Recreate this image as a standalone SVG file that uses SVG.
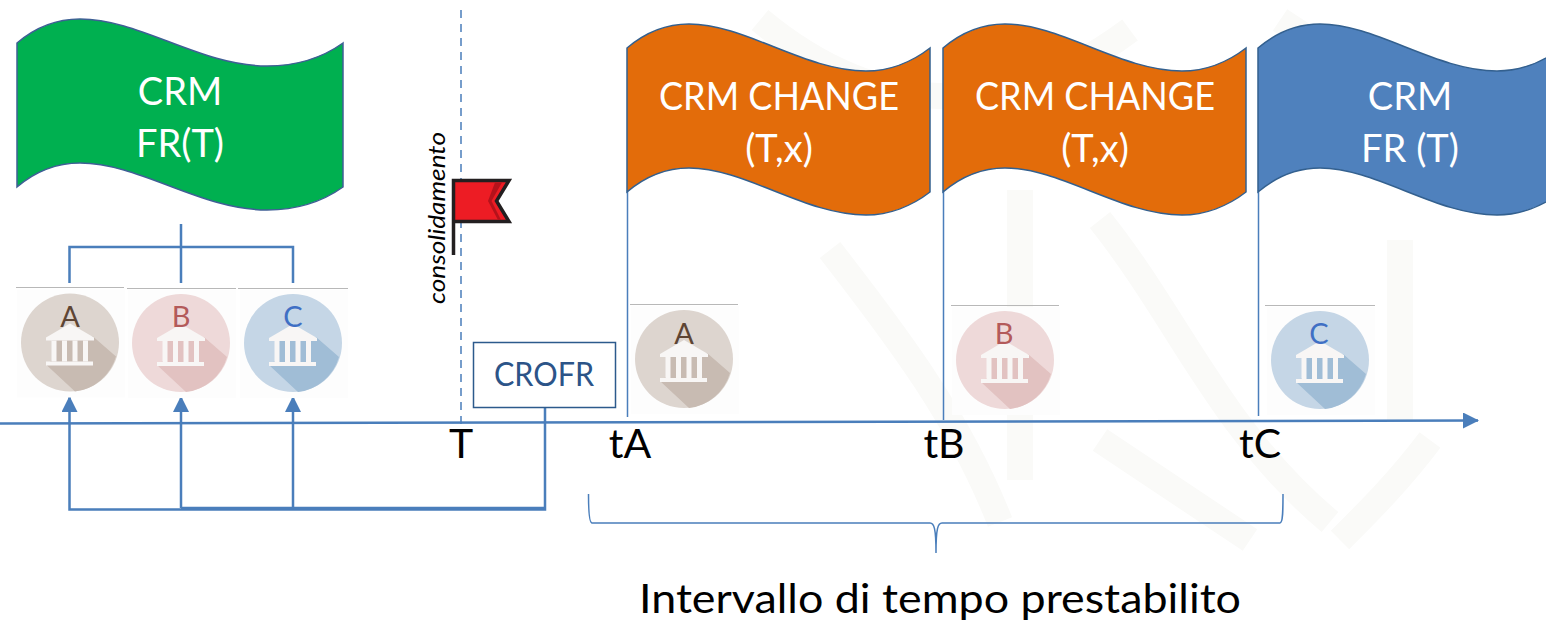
<svg xmlns="http://www.w3.org/2000/svg" width="1546" height="622" viewBox="0 0 1546 622">
<style>
text{font-family:Lato,"Noto Sans","Liberation Sans",sans-serif}
.flagtxt{fill:#fff;font-size:38px;text-anchor:middle}
.time{fill:#000;font-size:41px;text-anchor:middle}
.ln{fill:none;stroke:#4a7ebb;stroke-width:2.500}
.thin{fill:none;stroke:#4a7ebb;stroke-width:1.500}
.gray{stroke:#b8b8b8;stroke-width:1}
.wave{stroke:#33608f;stroke-width:1.500}
.mark{fill:none;stroke:#fafaf8;stroke-width:26}
.lab{font-size:29px;text-anchor:middle}
</style>
<defs>
<marker id="ah" markerUnits="userSpaceOnUse" markerWidth="16" markerHeight="16" refX="15" refY="8" orient="auto"><path d="M0 0L16 8L0 16Z" fill="#4a7ebb"/></marker>
<path id="w" d="M0 0C20-17 42-24 62-24C118-24 178 23 239 23C262 23 285 14 303 0V144C285 158 262 167 239 167C178 167 118 120 62 120C42 120 20 127 0 144Z"/>
<g id="bank">
<rect x="-53" y="-53" width="108" height="108" fill="#fdfdfd"/>
<circle r="49" fill="var(--c)"/>
<path d="M-18-6H23L46 14A49 49 0 0 1 5 49L-24 22L-18 18Z" fill="var(--s)"/>
<g fill="#f8f6f5"><path d="M0-19L24-5V-2H-24V-5Z"/><rect x="-24" y="19" width="47" height="4"/><rect x="-18.500" y="-2" width="5" height="21"/><rect x="-8" y="-2" width="5" height="21"/><rect x="2.500" y="-2" width="5" height="21"/><rect x="13" y="-2" width="5" height="21"/></g>
</g>
</defs>
<rect width="1546" height="622" fill="#fff"/>
<g id="watermark">
<path class="mark" d="M760 20C880 120 1010 120 1130 30M1280 20C1400 100 1480 130 1546 180M1020 190V480M1100 220C1180 320 1220 430 1330 522M1400 240V420M830 250C900 340 960 420 1000 522M1100 440L1250 540M1430 440C1400 480 1370 510 1340 540"/>
</g>
<g id="connectors">
<path class="ln" d="M0 423.500L1478 420.500" marker-end="url(#ah)"/>
<path d="M461 10V432" fill="none" stroke="#4a7ebb" stroke-width="1.500" stroke-dasharray="8 6"/>
<path class="ln" d="M181 224V283M69.500 283V247H293V283"/>
<path class="ln" d="M545 408V509.500H69.500V397" marker-end="url(#ah)"/>
<path class="ln" d="M181 508H545"/>
<path class="ln" d="M181 508V397" marker-end="url(#ah)"/>
<path class="ln" d="M293 508V397" marker-end="url(#ah)"/>
<path class="thin" d="M627.500 190V417M943.500 190V420M1258.500 190V416"/>
<path class="thin" d="M588.500 494C588.500 510 589 523 592 523H930C934 523 936 528 936 553C936 528 938 523 942 523H1280C1283 523 1283 510 1283 494"/>
</g>
<g id="flag-green"><path d="M17 43C37 26 59 19 80 19C140 19 200 66 267 66C295 66 322 58 343 43V187C322 202 295 210 267 210C200 210 140 163 80 163C59 163 37 170 17 187Z" fill="#00b050" stroke="#3f5f95" stroke-width="1.500"/>
<text class="flagtxt" x="180" y="105">CRM</text><text class="flagtxt" x="180" y="157">FR(T)</text></g>
<g id="flag-orange-a"><use href="#w" x="627" y="48" fill="#e36c0a" class="wave"/>
<text class="flagtxt" x="779" y="110" textLength="240" lengthAdjust="spacingAndGlyphs">CRM CHANGE</text><text class="flagtxt" x="779" y="162">(T,x)</text></g>
<g id="flag-orange-b"><use href="#w" x="943" y="48" fill="#e36c0a" class="wave"/>
<text class="flagtxt" x="1095" y="110" textLength="240" lengthAdjust="spacingAndGlyphs">CRM CHANGE</text><text class="flagtxt" x="1095" y="162">(T,x)</text></g>
<g id="flag-blue"><use href="#w" x="1258" y="48" fill="#4f81bd" class="wave"/>
<text class="flagtxt" x="1410" y="110">CRM</text><text class="flagtxt" x="1410" y="162">FR (T)</text></g>

<g id="bank-a1" style="--c:#ddd5cf;--s:#c8bbb2"><use href="#bank" x="70" y="342.500"/><text class="lab" x="70" y="327" fill="#5e4534">A</text><path class="gray" d="M16 287.500H124"/></g>
<g id="bank-b1" style="--c:#eed9d9;--s:#e2c2c1"><use href="#bank" x="181" y="343"/><text class="lab" x="181" y="327" fill="#b35a5a">B</text><path class="gray" d="M127 288.500H236"/></g>
<g id="bank-c1" style="--c:#c5d6e6;--s:#a0bdd6"><use href="#bank" x="293" y="343"/><text class="lab" x="293" y="327" fill="#3f6fc4">C</text><path class="gray" d="M238 288.500H348"/></g>
<g id="bank-a2" style="--c:#ddd5cf;--s:#c8bbb2"><use href="#bank" x="684" y="359"/><text class="lab" x="684" y="344" fill="#5e4534">A</text><path class="gray" d="M630 304.500H738"/></g>
<g id="bank-b2" style="--c:#eed9d9;--s:#e2c2c1"><use href="#bank" x="1005" y="360"/><text class="lab" x="1004" y="344" fill="#b35a5a">B</text><path class="gray" d="M951 305.500H1059"/></g>
<g id="bank-c2" style="--c:#c5d6e6;--s:#a0bdd6"><use href="#bank" x="1320" y="360"/><text class="lab" x="1319" y="344" fill="#3f6fc4">C</text><path class="gray" d="M1265 305.500H1375"/></g>

<g id="crofr"><rect x="473.500" y="342.500" width="142" height="65" fill="#fff" stroke="#2c5a8c" stroke-width="1.500"/><text x="544" y="386" font-size="32" text-anchor="middle" fill="#2c5488" textLength="100" lengthAdjust="spacingAndGlyphs">CROFR</text></g>
<g id="flag-red"><path d="M453.500 255V180.500H509L496.500 201L509 221.500H453.500" fill="#ed1c24" stroke="#231f20" stroke-width="3.500"/><path d="M495 182.500L488 201L498 220H501L491.500 201L502 182.500Z" fill="#b5121b"/></g>
<text x="445" y="304" font-size="24" font-style="italic" fill="#000" transform="rotate(-90 445 304)" textLength="172" lengthAdjust="spacingAndGlyphs">consolidamento</text>
<text class="time" x="461" y="458">T</text><text class="time" x="630" y="458">tA</text><text class="time" x="944" y="458">tB</text><text class="time" x="1260" y="458">tC</text>
<text x="940" y="613" font-size="40" text-anchor="middle" fill="#000" textLength="602" lengthAdjust="spacingAndGlyphs">Intervallo di tempo prestabilito</text>
</svg>
